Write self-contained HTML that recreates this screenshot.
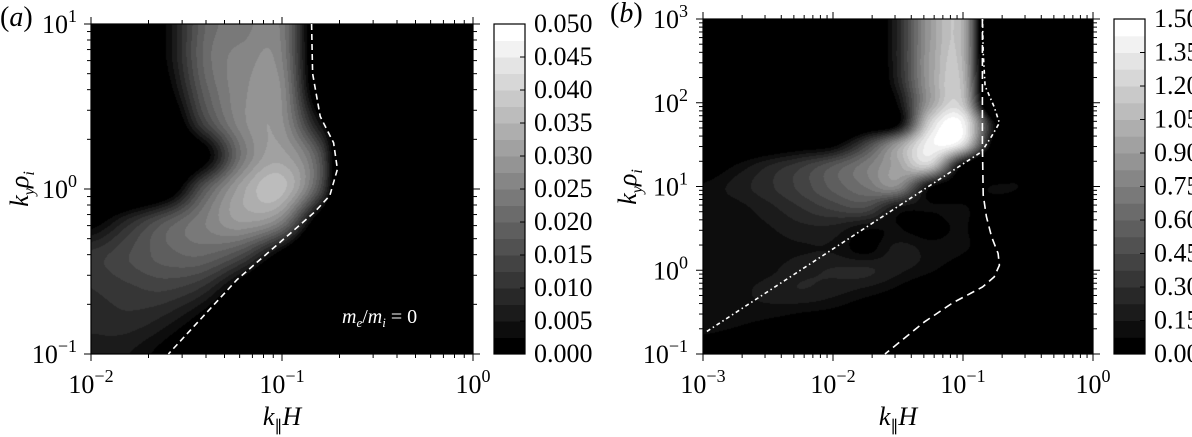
<!DOCTYPE html>
<html><head><meta charset="utf-8">
<style>
html,body{margin:0;padding:0;background:#fff;}
#root{position:relative;width:1192px;height:437px;overflow:hidden;background:#fff;}
canvas{position:absolute;}
svg{position:absolute;left:0;top:0;}
text{font-family:"Liberation Serif",serif;fill:#000;}
</style></head>
<body>
<div id="root">
<canvas id="cva" width="382" height="330" style="left:91px;top:24px"></canvas>
<canvas id="cvb" width="390" height="335" style="left:703px;top:19px"></canvas>
<svg id="ov" width="1192" height="437"></svg>
</div>
<script>
// ---------- Panel (a) data: growth-rate grid (x1e-3), log10 axes ----------
const aGridX = [-2,-1.8,-1.6,-1.4,-1.2,-1.0,-0.8,-0.6,-0.4,-0.2,0];
const aGridY = [1,0.8,0.6,0.4,0.2,0,-0.2,-0.4,-0.6,-0.8,-1];
const aValues = [
 [-10,-10,3,20,24,24,-8,-15,-15,-15,-15],
 [-10,-10,3,21,26,25,-8,-15,-15,-15,-15],
 [-10,-10,0,19,27,27,-6,-15,-15,-15,-15],
 [-10,-10,-6,14,27,28,4,-15,-15,-15,-15],
 [-10,-10,-10,0,24,31,16,-30,-15,-15,-15],
 [-10,-10,-4,18,32,36,15,-30,-15,-15,-15],
 [0,9,18,25,30,24,-4,-20,-15,-15,-15],
 [11,15,19,20,14,-1,-15,-15,-15,-15,-15],
 [10,12,13,9,-3,-15,-15,-15,-15,-15,-15],
 [8,9,6,-1,-12,-15,-15,-15,-15,-15,-15],
 [7,5,0,-8,-15,-15,-15,-15,-15,-15,-15]
];
const aLevelStep = 2.5; // 0.0025
const aCbarLabels = ["0.000","0.005","0.010","0.015","0.020","0.025","0.030","0.035","0.040","0.045","0.050"];
const aDashX = [-0.845,-0.84,-0.80,-0.73,-0.71,-0.75,-0.83,-0.955,-1.235,-1.595];
const aDashY = [1,0.7,0.44,0.28,0.12,-0.04,-0.14,-0.267,-0.549,-1.0];

// ---------- Panel (b) data: grid (x1e-2) ----------
const bGridX = [-3,-2.75,-2.5,-2.25,-2,-1.75,-1.5,-1.25,-1,-0.75,-0.5,-0.25,0];
const bGridY = [3,2.75,2.5,2.25,2,1.75,1.5,1.25,1,0.75,0.5,0.25,0,-0.25,-0.5,-0.75,-1];
const bValues = [
 [-30,-30,-30,-30,-30,-25,25,90,100,-80,-50,-50,-50],
 [-30,-30,-30,-30,-30,-25,25,90,100,-80,-50,-50,-50],
 [-30,-30,-30,-30,-30,-25,25,92,102,-80,-50,-50,-50],
 [-30,-30,-30,-30,-30,-25,22,92,106,-80,-50,-50,-50],
 [-30,-30,-30,-30,-30,-30,10,92,112,-60,-50,-50,-50],
 [-30,-30,-30,-30,-25,-15,5,122,140,5,-50,-50,-50],
 [-20,-15,-10,-4,3,40,90,140,125,-10,-50,-50,-50],
 [-5,8,22,35,52,72,95,115,5,-30,0,-30,-30],
 [9,18,28,40,55,68,80,10,-5,9,3,-30,-30],
 [9,12,20,30,40,45,15,9,9,-5,-10,-30,-30],
 [8,9,14,20,20,9,8,2,9,-10,-15,-30,-30],
 [8,9,11,14,14,4,18,12,9,-5,-20,-30,-30],
 [8,9,13,20,23,24,17,9,-3,-20,-30,-30,-30],
 [8,12,18,22,18,12,4,-10,-20,-30,-30,-30,-30],
 [8,11,11,8,4,-5,-10,-20,-30,-30,-30,-30,-30],
 [8,5,-2,-10,-20,-30,-30,-30,-30,-30,-30,-30,-30],
 [-3,-10,-20,-30,-30,-30,-30,-30,-30,-30,-30,-30,-30]
];
const bLevelStep = 7.5; // 0.075
const bCbarLabels = ["0.00","0.15","0.30","0.45","0.60","0.75","0.90","1.05","1.20","1.35","1.50"];
const bDashX = [-0.851,-0.851,-0.845,-0.82,-0.78,-0.73,-0.72,-0.76,-0.85,-1.08,-1.3,-1.6];
const bDashY = [3,1.5,0.9,0.64,0.4,0.2,0.06,-0.08,-0.2,-0.39,-0.62,-1.0];
const bDotX = [-2.97,-0.856,-0.78,-0.72,-0.76,-0.83,-0.845,-0.85];
const bDotY = [-0.73,1.415,1.6,1.76,1.95,2.2,2.6,3.0];

const NLEV = 20;
const NS = "http://www.w3.org/2000/svg";
const svg = document.getElementById('ov');

function cr(p0,p1,p2,p3,t){
  return 0.5*((2*p1)+(-p0+p2)*t+(2*p0-5*p1+4*p2-p3)*t*t+(-p0+3*p1-3*p2+p3)*t*t*t);
}
function sample(vals, gx, gy){
  const R = vals.length, C = vals[0].length;
  const ix = Math.floor(gx), iy = Math.floor(gy);
  const tx = gx-ix, ty = gy-iy;
  const g=(r,c)=>vals[Math.max(0,Math.min(R-1,r))][Math.max(0,Math.min(C-1,c))];
  const rows=[];
  for(let k=-1;k<=2;k++){
    rows.push(cr(g(iy+k,ix-1),g(iy+k,ix),g(iy+k,ix+1),g(iy+k,ix+2),tx));
  }
  return cr(rows[0],rows[1],rows[2],rows[3],ty);
}
function drawField(id, W, H, gridX, gridY, vals, step){
  const cv = document.getElementById(id), ctx = cv.getContext('2d');
  const img = ctx.createImageData(W,H);
  const x0=gridX[0], x1=gridX[gridX.length-1], y0=gridY[0], y1=gridY[gridY.length-1];
  const dx=gridX[1]-gridX[0], dy=gridY[0]-gridY[1];
  for(let py=0;py<H;py++){
    const ly = y0 - (py+0.5)/H*(y0-y1);
    const gy = (y0-ly)/dy;
    for(let px=0;px<W;px++){
      const lx = x0 + (px+0.5)/W*(x1-x0);
      const gx = (lx-x0)/dx;
      const v = sample(vals,gx,gy);
      let lev = Math.floor(v/step);
      lev = Math.max(0,Math.min(NLEV-1,lev));
      const c = Math.round(lev/(NLEV-1)*255);
      const i=(py*W+px)*4;
      img.data[i]=c;img.data[i+1]=c;img.data[i+2]=c;img.data[i+3]=255;
    }
  }
  ctx.putImageData(img,0,0);
}
function el(tag, attrs){
  const e=document.createElementNS(NS,tag);
  for(const k in attrs) e.setAttribute(k,attrs[k]);
  svg.appendChild(e); return e;
}
function powLabel(x,y,exp,anchor,name){
  const t=el('text',{x:x,y:y,'font-size':26,'text-anchor':anchor});
  
  
  t.appendChild(document.createTextNode('10'));
  const s=document.createElementNS(NS,'tspan');
  s.setAttribute('dy','-11');s.setAttribute('font-size','18');
  s.textContent=exp;t.appendChild(s);
  return t;
}
function panel(cfg){
  const {L,T,W,H,xmin,xmax,ymin,ymax,tag}=cfg;
  const sx=v=>L+(v-xmin)/(xmax-xmin)*W;
  const sy=v=>T+H-(v-ymin)/(ymax-ymin)*H;
  const tk=el('g',{stroke:'#000','stroke-width':1});
  
  
  function addT(x1,y1,x2,y2){const l=document.createElementNS(NS,'line');l.setAttribute('x1',x1);l.setAttribute('y1',y1);l.setAttribute('x2',x2);l.setAttribute('y2',y2);tk.appendChild(l);}
  for(let d=xmin; d<=xmax; d++){
    for(let k=1;k<=9;k++){
      const v=d+Math.log10(k); if(v>xmax+1e-9) break;
      const len=k===1?7:4, x=sx(v);
      addT(x,T+H,x,T+H+len); addT(x,T,x,T-len);
    }
  }
  for(let d=ymin; d<=ymax; d++){
    for(let k=1;k<=9;k++){
      const v=d+Math.log10(k); if(v>ymax+1e-9) break;
      const len=k===1?7:4, y=sy(v);
      addT(L,y,L-len,y); addT(L+W,y,L+W+len,y);
    }
  }
  for(let d=xmin; d<=xmax; d++) powLabel(sx(d),T+H+39,(d<0?'−':'')+Math.abs(d),'middle',tag+'-x-tick-label');
  for(let d=ymin; d<=ymax; d++) powLabel(cfg.ylabX,sy(d)+9,(d<0?'−':'')+Math.abs(d),'end',tag+'-y-tick-label');
  const fr=el('rect',{x:L,y:T,width:W,height:H,fill:'none',stroke:'#000','stroke-width':1.2});
  
  
  return {sx,sy};
}
function line(ax, xs, ys, dash, name, w){
  const pts=xs.map((x,i)=>ax.sx(x).toFixed(1)+','+ax.sy(ys[i]).toFixed(1)).join(' ');
  const p=el('polyline',{points:pts,fill:'none',stroke:'#fff','stroke-width':w||1.6,'stroke-dasharray':dash});
  
  
}
function cbar(x,T,W,H,labels,tag){
  const g=el('g',{});
  
  
  for(let i=0;i<NLEV;i++){
    const c=Math.round(i/(NLEV-1)*255);
    const r=document.createElementNS(NS,'rect');
    r.setAttribute('x',x);r.setAttribute('y',T+H-(i+1)*H/NLEV);
    r.setAttribute('width',W);r.setAttribute('height',H/NLEV+0.5);
    r.setAttribute('fill','rgb('+c+','+c+','+c+')');
    g.appendChild(r);
  }
  const f=el('rect',{x:x,y:T,width:W,height:H,fill:'none',stroke:'#000','stroke-width':1.2});
  
  
  labels.forEach((lab,i)=>{
    const y=T+H-i*H/(labels.length-1);
    el('line',{x1:x+W,y1:y,x2:x+W-5,y2:y,stroke:'#000','stroke-width':1});
    const t=el('text',{x:x+W+9,y:y+8,'font-size':26});
    
    
    t.textContent=lab;
  });
}

drawField('cva',382,330,aGridX,aGridY,aValues,aLevelStep);
drawField('cvb',390,335,bGridX,bGridY,bValues,bLevelStep);

const A=panel({L:91,T:24,W:382,H:330,xmin:-2,xmax:0,ymin:-1,ymax:1,tag:'panel-a',ylabX:77});
const B=panel({L:703,T:19,W:390,H:335,xmin:-3,xmax:0,ymin:-1,ymax:3,tag:'panel-b',ylabX:688});
line(A,aDashX,aDashY,'6,4','marginal-curve-a',1.6);
line(B,bDashX,bDashY,'8,5','marginal-curve-b',1.6);
line(B,bDotX,bDotY,'4,3,1.5,3','dashdot-curve-b',1.6);
cbar(494,24,31,330,aCbarLabels,'panel-a');
cbar(1114,19,31,335,bCbarLabels,'panel-b');
</script>
<script>
(function(){
  const NS="http://www.w3.org/2000/svg", s=document.getElementById('ov');
  function T(x,y,html,size,name,extra){
    const t=document.createElementNS(NS,'text');
    t.setAttribute('x',x);t.setAttribute('y',y);t.setAttribute('font-size',size);
    if(extra) for(const k in extra) t.setAttribute(k,extra[k]);
    
    
    t.innerHTML=html; s.appendChild(t); return t;
  }
  T(0,26,'(<tspan font-style="italic">a</tspan>)',28,'panel-a-label');
  T(610,22,'(<tspan font-style="italic">b</tspan>)',28,'panel-b-label');
  T(282,425,'<tspan font-style="italic">k</tspan><tspan font-size="16" dy="6">∥</tspan><tspan dy="-6" font-style="italic">H</tspan>',26,'panel-a-x-axis-title',{'text-anchor':'middle'});
  T(898,425,'<tspan font-style="italic">k</tspan><tspan font-size="16" dy="6">∥</tspan><tspan dy="-6" font-style="italic">H</tspan>',26,'panel-b-x-axis-title',{'text-anchor':'middle'});
  T(0,0,'<tspan font-style="italic">k</tspan><tspan font-size="16" dy="6" font-style="italic">y</tspan><tspan dy="-6" font-style="italic">ρ</tspan><tspan font-size="16" dy="6" font-style="italic">i</tspan>',26,'panel-a-y-axis-title',{'text-anchor':'middle',transform:'translate(28,189) rotate(-90)'});
  T(0,0,'<tspan font-style="italic">k</tspan><tspan font-size="16" dy="6" font-style="italic">y</tspan><tspan dy="-6" font-style="italic">ρ</tspan><tspan font-size="16" dy="6" font-style="italic">i</tspan>',26,'panel-b-y-axis-title',{'text-anchor':'middle',transform:'translate(636,187) rotate(-90)'});
  const ann=T(342,323,'<tspan font-style="italic">m</tspan><tspan font-size="13" dy="4" font-style="italic">e</tspan><tspan dy="-4">/</tspan><tspan font-style="italic">m</tspan><tspan font-size="13" dy="4" font-style="italic">i</tspan><tspan dy="-4"> = 0</tspan>',20,'mass-ratio-annotation');
  ann.style.fill='#fff';
})();
</script>
</body></html>
